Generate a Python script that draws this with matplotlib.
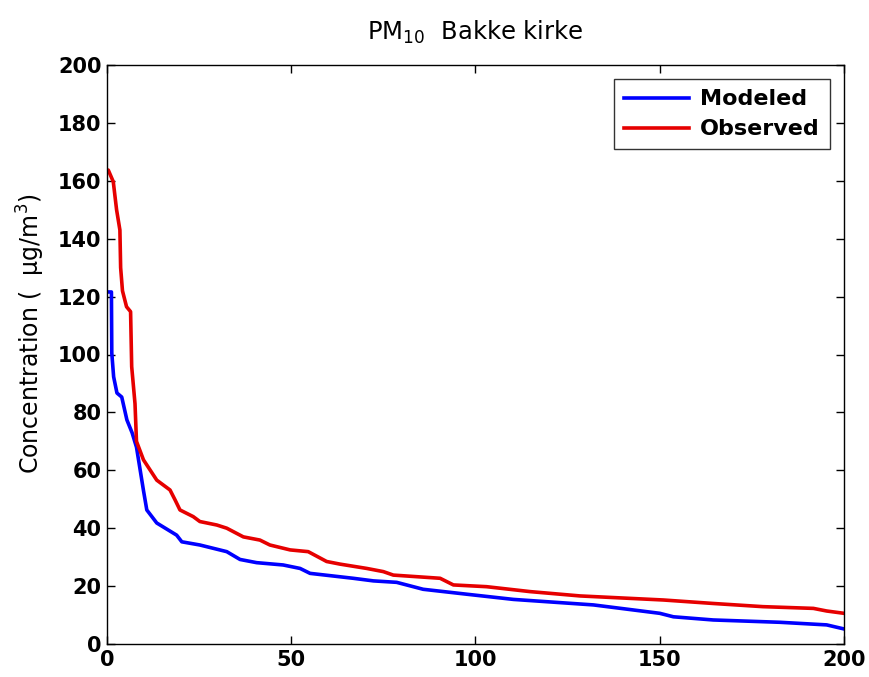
import matplotlib
matplotlib.use("Agg")
import matplotlib.pyplot as plt

# Ranked concentrations (sorted descending) for PM10 at Bakke kirke
modeled_x = [0, 1.2, 1.3, 1.8, 2.7, 4.0, 5.4, 6.8, 8.0, 9.9, 10.8, 13.5, 18.9, 20.3,
             25.2, 32.5, 36.1, 40.6, 47.8, 52.4, 55.1, 66.8, 72.3, 78.6, 85.8,
             97.6, 110.3, 132.0, 150.0, 153.7, 164.5, 182.6, 195.3, 200.0]
modeled_y = [121.6, 121.6, 100.5, 92.3, 86.7, 85.3, 77.4, 73.0, 68.0, 53.0, 46.3, 41.8,
             37.6, 35.3, 34.2, 31.9, 29.2, 28.1, 27.3, 26.1, 24.4, 22.7, 21.8, 21.3,
             18.9, 17.2, 15.4, 13.5, 10.6, 9.4, 8.3, 7.5, 6.6, 5.2]

observed_x = [0, 0.35, 1.7, 2.6, 3.5, 3.7, 4.2, 5.3, 6.4, 6.7, 7.6, 8.0, 9.9, 13.5,
              17.1, 18.5, 19.8, 23.4, 25.2, 29.8, 32.5, 37.0, 41.5, 44.2, 49.7,
              54.6, 59.6, 63.2, 70.5, 75.0, 77.7, 90.4, 94.0, 103.0, 114.8, 128.4,
              151.0, 164.5, 178.0, 191.7, 195.3, 200.0]
observed_y = [163.7, 163.7, 159.7, 150.0, 143.0, 130.0, 122.0, 116.5, 114.8, 95.8, 83.0,
              70.0, 63.6, 56.6, 53.2, 49.7, 46.3, 44.0, 42.3, 41.1, 40.0, 37.0, 35.9,
              34.2, 32.5, 31.9, 28.5, 27.6, 26.1, 25.0, 23.8, 22.7, 20.4, 19.8, 18.1,
              16.6, 15.2, 14.0, 12.9, 12.3, 11.4, 10.6]

x_ticks = [0, 50, 100, 150, 200]
y_ticks = [0, 20, 40, 60, 80, 100, 120, 140, 160, 180, 200]

plt.rcParams['font.family'] = ['DejaVu Sans']
plt.rcParams['mathtext.default'] = 'regular'

fig = plt.figure(figsize=(8.7, 6.77), dpi=100)
ax = fig.add_axes([107 / 870, 1 - 644 / 677, 737 / 870, 579 / 677])

ax.plot(modeled_x, modeled_y, color='#0000ff', lw=2.6, label='Modeled')
ax.plot(observed_x, observed_y, color='#e60000', lw=2.6, label='Observed')

ax.set_xlim(0, 200)
ax.set_ylim(0, 200)
ax.set_xticks(x_ticks)
ax.set_yticks(y_ticks)
ax.tick_params(direction='in', length=6, width=1, top=True, right=True,
               labelsize=15, pad=4)
for lbl in ax.get_xticklabels() + ax.get_yticklabels():
    lbl.set_fontweight('bold')
for s in ax.spines.values():
    s.set_linewidth(1)

ax.set_ylabel('Concentration (  \u03bcg/m$^3$)', fontsize=17)
ax.yaxis.set_label_coords(-0.081, 0.535)
ax.set_title('PM$_{10}$  Bakke kirke', fontsize=17.5, pad=18)

leg = ax.legend(loc='upper right', frameon=True, fancybox=False,
                edgecolor='black', handlelength=2.9, handletextpad=0.5,
                borderaxespad=0.65, borderpad=0.45, labelspacing=0.45,
                prop={'weight': 'bold', 'size': 16})
leg.get_frame().set_linewidth(1)

fig.savefig('out.png', dpi=100, facecolor='white')
